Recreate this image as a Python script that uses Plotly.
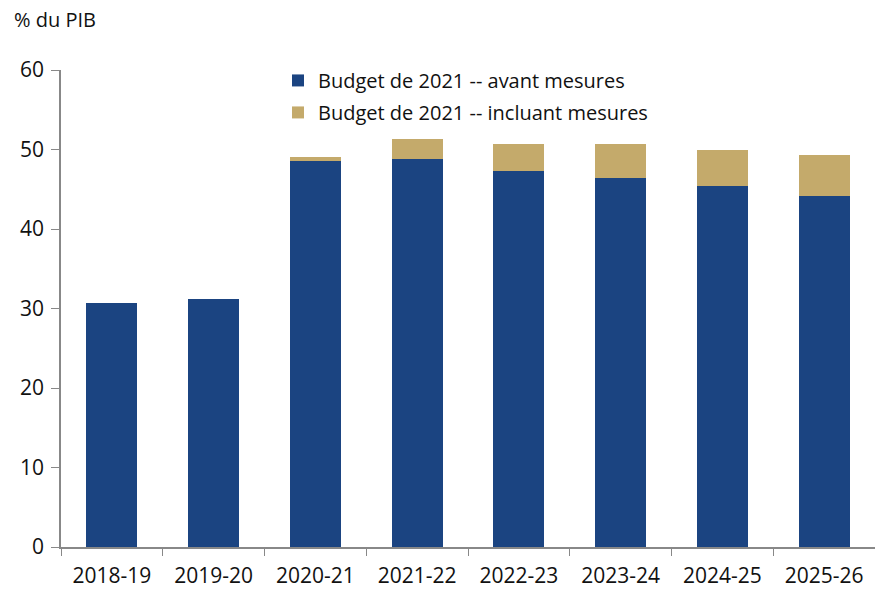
import plotly.graph_objects as go

categories = ["2018-19", "2019-20", "2020-21", "2021-22", "2022-23", "2023-24", "2024-25", "2025-26"]
avant_mesures = [30.7, 31.2, 48.6, 48.8, 47.3, 46.45, 45.4, 44.2]
mesures = [0, 0, 0.4, 2.5, 3.4, 4.2, 4.6, 5.1]
y_ticks = [0, 10, 20, 30, 40, 50, 60]

FONT = "Open Sans, Noto Sans, sans-serif"

fig = go.Figure()
fig.add_trace(go.Bar(
    x=categories, y=avant_mesures,
    name="Budget de 2021 -- avant mesures",
    marker=dict(color="#1B4481", line=dict(width=0)),
    legendgroup="a",
))
fig.add_trace(go.Bar(
    x=categories, y=mesures,
    name="Budget de 2021 -- incluant mesures",
    marker=dict(color="#C4AA6B", line=dict(width=0)),
    legendgroup="b",
))

fig.update_layout(
    width=875, height=591,
    barmode="stack",
    bargap=0.5,
    plot_bgcolor="white",
    paper_bgcolor="white",
    margin=dict(l=61, r=0, t=70, b=44),
    font=dict(family=FONT, size=21, color="#111111"),
    showlegend=True,
    legend=dict(
        x=0.2666, y=1.019, xanchor="left", yanchor="top",
        traceorder="grouped", tracegroupgap=3,
        font=dict(family=FONT, size=20, color="#111111"),
        bgcolor="rgba(0,0,0,0)",
    ),
    xaxis=dict(
        showline=True, linecolor="#888888", linewidth=1.5,
        ticks="outside", tickcolor="#888888", ticklen=7,
        tickson="boundaries",
        showgrid=False, automargin=False,
        tickfont=dict(size=21),
        ticklabelstandoff=9,
    ),
    yaxis=dict(
        range=[0, 60], tickvals=y_ticks,
        showline=True, linecolor="#888888", linewidth=1.5,
        ticks="outside", tickcolor="#888888", ticklen=8,
        showgrid=False, zeroline=False, automargin=False,
        tickfont=dict(size=21),
        ticklabelstandoff=3,
    ),
    annotations=[dict(
        text="% du PIB", xref="paper", yref="paper",
        x=-49/814, y=1 + 51/477, xanchor="left", yanchor="middle",
        showarrow=False, font=dict(size=20),
    )],
)

fig.write_html("out.html")
